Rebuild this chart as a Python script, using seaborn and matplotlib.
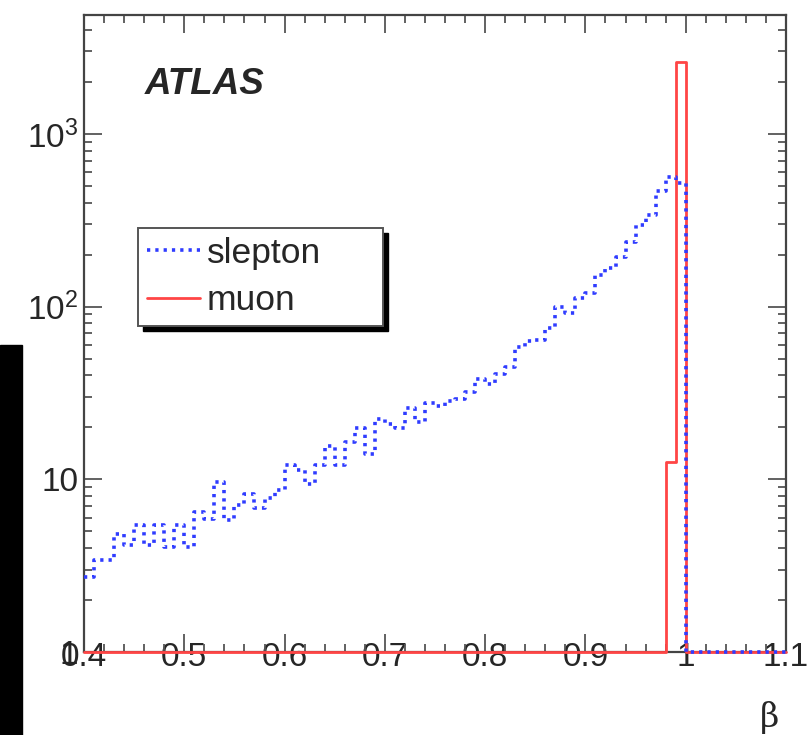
import numpy as np
import pandas as pd
import matplotlib
matplotlib.use("Agg")
import matplotlib.pyplot as plt
import seaborn as sns
from matplotlib.ticker import FixedLocator, FixedFormatter, MultipleLocator, LogLocator, NullFormatter
from matplotlib.patches import Rectangle

# ---------------- data ----------------
bin_edges = np.round(np.linspace(0.40, 1.10, 71), 3)   # 70 bins of width 0.01
slepton = [2.73, 3.41, 3.41, 4.8, 4.17, 5.44, 4.17, 5.44, 4.07, 5.44,
           4.07, 6.5, 5.9, 9.7, 5.8, 7.1, 8.2, 6.8, 7.8, 8.7,
           12.1, 11.3, 9.4, 12.1, 15.5, 12.1, 16.5, 19.7, 14.0, 22.3,
           21.0, 19.7, 25.8, 21.6, 27.6, 26.7, 28.5, 29.0, 32.2, 38.3,
           35.8, 40.6, 44.4, 58.0, 63.0, 64.0, 75.0, 99.0, 92.0, 111.6,
           119.4, 152.0, 166.7, 194.6, 237.6, 297.0, 339.0, 469.0, 560.0, 520.0,
           0, 0, 0, 0, 0, 0, 0, 0, 0, 0]
muon = [0] * 58 + [12.6, 2620.0] + [0] * 10
series_names = ["slepton", "muon"]
x_ticks = [0.4, 0.5, 0.6, 0.7, 0.8, 0.9, 1.0, 1.1]
x_tick_labels = ["0.4", "0.5", "0.6", "0.7", "0.8", "0.9", "1", "1.1"]
y_ticks = [1, 10, 100, 1000]
y_tick_labels = ["1", "10", "$10^{2}$", "$10^{3}$"]
y_min, y_max = 1.0, 4880.0

# ---------------- style ----------------
sns.set_theme(style="ticks")
plt.rcParams["font.family"] = ["Liberation Sans", "DejaVu Sans"]
plt.rcParams["mathtext.fontset"] = "custom"
plt.rcParams["mathtext.rm"] = "Liberation Sans"
plt.rcParams["mathtext.it"] = "Liberation Sans:italic"
plt.rcParams["mathtext.bf"] = "Liberation Sans:bold"

fig = plt.figure(figsize=(8.09, 7.35), dpi=100)
fig.patch.set_facecolor("white")
ax = fig.add_axes([84 / 809, 1 - 652 / 735, 702 / 809, 637 / 735])
ax.set_yscale("log")

def step_frame(vals):
    v = np.maximum(np.asarray(vals, dtype=float), y_min)
    return pd.DataFrame({"x": bin_edges, "y": np.append(v, v[-1])})

red = "#ff4545"
blue = "#2f3cff"

sns.lineplot(data=step_frame(muon), x="x", y="y", drawstyle="steps-post",
             estimator=None, sort=False, ax=ax, color=red, lw=2.0,
             label="muon", legend=False)
line_mu = ax.lines[-1]
sns.lineplot(data=step_frame(slepton), x="x", y="y", drawstyle="steps-post",
             estimator=None, sort=False, ax=ax, color=blue, lw=2.6,
             label="slepton", legend=False)
line_sl = ax.lines[-1]
line_sl.set_linestyle((0, (0.9, 1.4)))
for ln in (line_mu, line_sl):
    ln.set_clip_on(False)
    ln.set_zorder(3)

ax.set_xlim(0.4, 1.1)
ax.set_ylim(y_min, y_max)

# ticks
ax.xaxis.set_major_locator(FixedLocator(x_ticks))
ax.xaxis.set_major_formatter(FixedFormatter(x_tick_labels))
ax.xaxis.set_minor_locator(MultipleLocator(0.02))
ax.yaxis.set_major_locator(FixedLocator(y_ticks))
ax.yaxis.set_major_formatter(FixedFormatter(y_tick_labels))
ax.yaxis.set_minor_locator(LogLocator(base=10, subs=np.arange(2, 10)))
ax.yaxis.set_minor_formatter(NullFormatter())

ax.tick_params(which="both", direction="in", top=True, right=True,
               color="#555555", width=1.3)
ax.tick_params(which="major", length=13)
ax.tick_params(which="minor", length=6)
ax.tick_params(axis="x", which="major", labelsize=24, pad=-7)
ax.tick_params(axis="y", which="major", labelsize=24, pad=4)
for s in ax.spines.values():
    s.set_color("#444444")
    s.set_linewidth(1.6)
ax.set_xlabel("")
ax.set_ylabel("")

# ATLAS label
ax.text((145 - 84) / 702, (652 - 84) / 637, "ATLAS", transform=ax.transAxes,
        fontsize=26.5, fontweight="bold", fontstyle="italic", va="center", ha="left")

# legend
leg = ax.legend([line_sl, line_mu], series_names, loc="upper left",
                bbox_to_anchor=((138 - 84) / 702, (652 - 330) / 637,
                                (383 - 138) / 702, (330 - 228) / 637),
                mode="expand", fontsize=25.5, frameon=True, fancybox=False,
                shadow=False, borderpad=0.25, handlelength=1.5,
                handletextpad=0.2, labelspacing=0.4, borderaxespad=0)
leg.get_frame().set_edgecolor("#555555")
leg.get_frame().set_linewidth(1.4)
leg.get_frame().set_alpha(1)
leg.set_zorder(6)

# black drop shadow of the legend box (ROOT style)
fig.canvas.draw()
bb = leg.get_window_extent()
inv = ax.transAxes.inverted()
(x0, y0) = inv.transform((bb.x0 + 5, bb.y0 - 5))
(x1, y1) = inv.transform((bb.x1 + 5, bb.y1 - 5))
ax.add_patch(Rectangle((x0, y0), x1 - x0, y1 - y0, transform=ax.transAxes,
                       facecolor="black", edgecolor="black", zorder=5.5,
                       clip_on=False))

# beta axis label
fig.text(770 / 809, 1 - 718 / 735, "β", fontsize=24, ha="center", va="center",
         family=["DejaVu Serif"])

# dark strip at the left edge (part of the original picture)
fig.add_artist(Rectangle((0, 0), 22 / 809, (735 - 345) / 735,
                         transform=fig.transFigure, color="black", zorder=0))

fig.savefig("out.png", dpi=100)
